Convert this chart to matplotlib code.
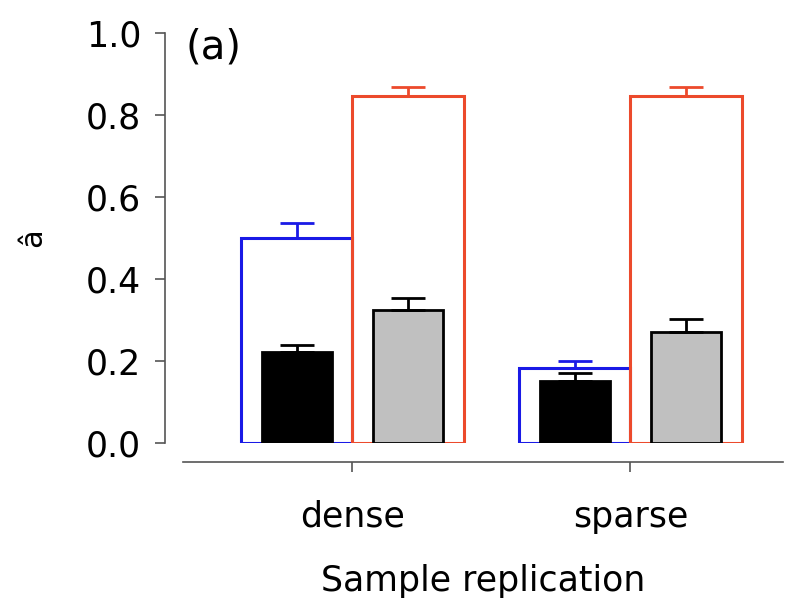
import numpy as np
import matplotlib.pyplot as plt

groups = ['dense', 'sparse']

# outline bars (blue / red) and filled bars (black / gray), with upper errors
blue_vals = [0.50, 0.183]
blue_err = [0.037, 0.018]
red_vals = [0.845, 0.845]
red_err = [0.022, 0.022]
black_vals = [0.222, 0.152]
black_err = [0.018, 0.018]
gray_vals = [0.323, 0.270]
gray_err = [0.030, 0.031]

x = np.arange(len(groups))

fig = plt.figure(figsize=(7.92, 6.06), dpi=100)
ax = fig.add_axes([0.231, 0.269, 0.758, 0.677])

ebar = dict(lw=2, capthick=2, capsize=12)

ax.bar(x - 0.2, blue_vals, width=0.4, facecolor='none', edgecolor='#1a1ae6',
       linewidth=2.2, zorder=1)
ax.bar(x + 0.2, red_vals, width=0.4, facecolor='none', edgecolor='#ec4a2c',
       linewidth=2.2, zorder=1)
ax.errorbar(x - 0.2, blue_vals, yerr=[np.zeros(2), blue_err], fmt='none',
            ecolor='#1a1ae6', zorder=1, **ebar)
ax.errorbar(x + 0.2, red_vals, yerr=[np.zeros(2), red_err], fmt='none',
            ecolor='#ec4a2c', zorder=1, **ebar)

ax.bar(x - 0.2, black_vals, width=0.25, facecolor='black', edgecolor='black',
       linewidth=2, zorder=2)
ax.bar(x + 0.2, gray_vals, width=0.25, facecolor='#c0c0c0', edgecolor='black',
       linewidth=2, zorder=2)
ax.errorbar(x - 0.2, black_vals, yerr=[np.zeros(2), black_err], fmt='none',
            ecolor='black', zorder=3, **ebar)
ax.errorbar(x + 0.2, gray_vals, yerr=[np.zeros(2), gray_err], fmt='none',
            ecolor='black', zorder=3, **ebar)

ax.set_xlim(-0.61, 1.55)
ax.set_ylim(0, 1.0)
ax.set_yticks([0, 0.2, 0.4, 0.6, 0.8, 1.0])
ax.set_yticklabels(['0.0', '0.2', '0.4', '0.6', '0.8', '1.0'])
ax.set_xticks(x)
ax.set_xticklabels(groups)

for s in ['top', 'right']:
    ax.spines[s].set_visible(False)
ax.spines['left'].set_position(('outward', 13))
ax.spines['bottom'].set_position(('outward', 14))
ax.spines['left'].set_bounds(0, 1.0)
for s in ['left', 'bottom']:
    ax.spines[s].set_color('#555555')
    ax.spines[s].set_linewidth(1.2)

ax.tick_params(axis='y', labelsize=25, length=7, width=1.2, color='#555555', pad=10)
ax.tick_params(axis='x', labelsize=25, length=7, width=1.2, color='#555555', pad=20)

ax.set_xlabel('Sample replication', fontsize=25, labelpad=22)
ax.set_ylabel('â', fontsize=22, labelpad=28)

ax.text(0.005, 0.963, '(a)', transform=ax.transAxes, fontsize=29,
        ha='left', va='center')

fig.savefig('out.png', dpi=100)
